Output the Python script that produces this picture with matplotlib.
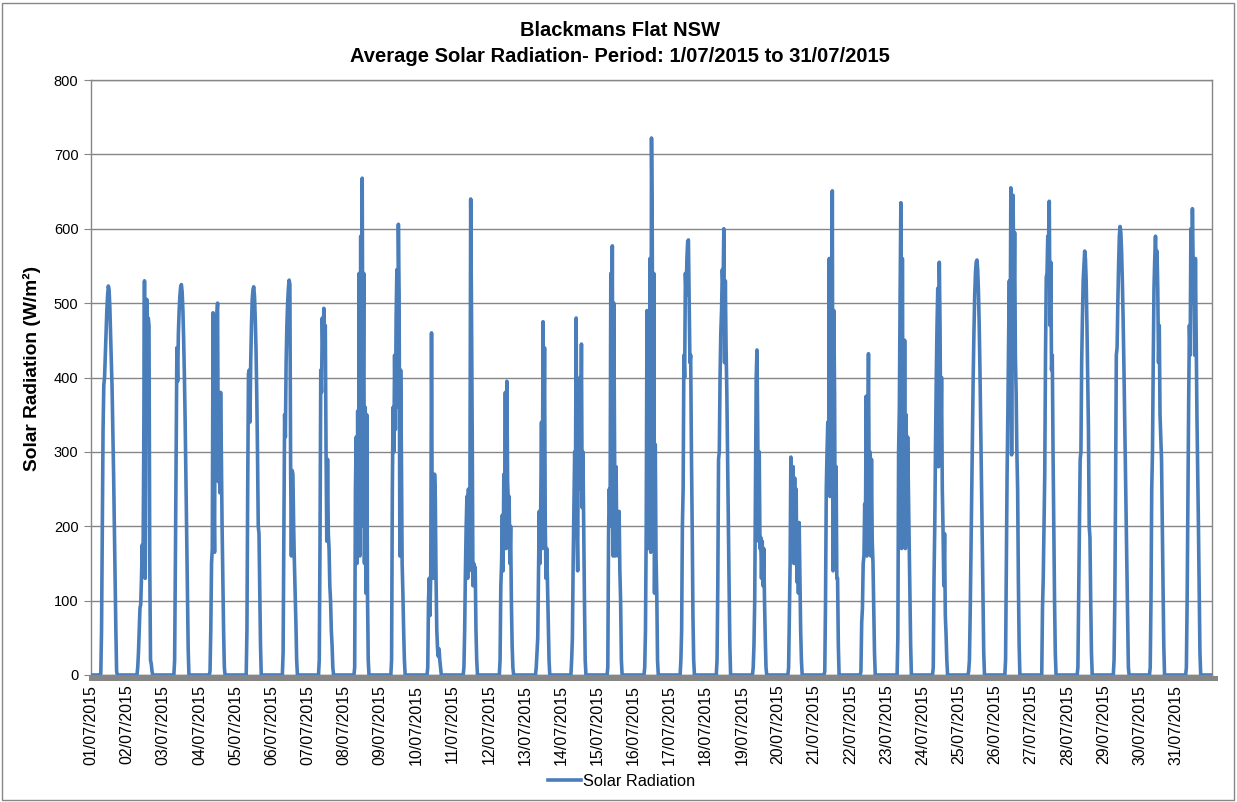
import numpy as np
import matplotlib
matplotlib.use('Agg')
import matplotlib.pyplot as plt
import matplotlib.transforms as mtransforms
from matplotlib.patches import Rectangle

plt.rcParams['font.family'] = ['Liberation Sans', 'DejaVu Sans']

# half-hourly readings 06:00 .. 17:30 for each day (W/m2), night is 0
day01 = [0, 2, 60, 200, 330, 390, 400, 430, 460, 490, 510, 523, 518, 495, 460, 420, 385, 330, 270, 200, 130, 60, 5, 0]
day02 = [0, 0, 10, 30, 60, 90, 95, 130, 175, 140, 300, 530, 130, 420, 505, 440, 480, 470, 150, 20, 15, 5, 0, 0]
day03 = [0, 0, 0, 20, 150, 300, 440, 395, 460, 490, 510, 522, 525, 515, 490, 450, 400, 340, 270, 190, 110, 35, 0, 0]
day04 = [0, 0, 5, 60, 150, 170, 487, 260, 165, 470, 300, 480, 500, 260, 330, 245, 380, 300, 200, 130, 60, 10, 0, 0]
day05 = [0, 0, 0, 60, 250, 405, 410, 340, 420, 470, 505, 518, 522, 510, 480, 440, 380, 300, 200, 190, 110, 40, 0, 0]
day06 = [0, 0, 0, 30, 200, 350, 320, 420, 470, 500, 520, 531, 525, 275, 160, 275, 270, 200, 150, 110, 70, 20, 0, 0]
day07 = [0, 0, 0, 20, 180, 410, 380, 480, 430, 493, 440, 470, 300, 180, 290, 190, 170, 120, 100, 60, 40, 10, 0, 0]
day08 = [0, 0, 10, 250, 320, 150, 355, 200, 540, 160, 590, 200, 668, 330, 540, 150, 360, 110, 350, 110, 20, 0, 0, 0]
day09 = [0, 0, 0, 20, 250, 360, 300, 430, 330, 480, 545, 360, 606, 510, 160, 410, 300, 150, 110, 60, 20, 0, 0, 0]
day10 = [0, 0, 0, 10, 100, 130, 80, 140, 460, 180, 130, 140, 270, 240, 130, 60, 35, 25, 35, 20, 10, 0, 0, 0]
day11 = [0, 0, 0, 10, 60, 140, 200, 240, 130, 250, 140, 250, 640, 500, 330, 120, 150, 130, 145, 60, 20, 0, 0, 0]
day12 = [0, 0, 0, 20, 120, 150, 215, 140, 270, 200, 380, 170, 395, 260, 230, 240, 150, 200, 100, 40, 10, 0, 0, 0]
day13 = [0, 0, 0, 10, 30, 50, 130, 220, 150, 230, 340, 170, 475, 300, 440, 200, 130, 170, 120, 75, 20, 0, 0, 0]
day14 = [0, 0, 20, 50, 150, 230, 300, 250, 480, 200, 140, 380, 250, 400, 300, 445, 225, 300, 200, 100, 20, 0, 0, 0]
day15 = [0, 0, 10, 190, 250, 200, 540, 300, 577, 160, 500, 300, 160, 280, 170, 190, 160, 220, 140, 100, 20, 0, 0, 0]
day16 = [0, 0, 0, 10, 60, 200, 490, 170, 480, 200, 560, 165, 722, 590, 200, 540, 110, 310, 160, 110, 20, 0, 0, 0]
day17 = [0, 0, 0, 20, 60, 200, 250, 430, 400, 540, 510, 560, 583, 585, 500, 420, 430, 300, 200, 80, 20, 0, 0, 0]
day18 = [0, 0, 0, 20, 120, 290, 300, 400, 460, 490, 545, 520, 600, 420, 530, 440, 380, 290, 200, 120, 40, 0, 0, 0]
day19 = [0, 0, 0, 10, 40, 100, 250, 400, 437, 330, 180, 300, 170, 185, 130, 180, 120, 170, 100, 50, 10, 0, 0, 0]
day20 = [0, 0, 10, 80, 150, 293, 155, 200, 280, 150, 265, 160, 250, 125, 200, 110, 205, 130, 60, 20, 0, 0, 0, 0]
day21 = [0, 0, 5, 100, 250, 300, 340, 250, 560, 240, 450, 300, 651, 140, 490, 380, 150, 280, 130, 130, 40, 0, 0, 0]
day22 = [0, 0, 5, 70, 90, 150, 160, 230, 200, 375, 160, 300, 432, 240, 300, 160, 290, 180, 150, 90, 30, 0, 0, 0]
day23 = [0, 0, 0, 50, 300, 360, 510, 635, 170, 560, 250, 180, 450, 170, 350, 180, 320, 250, 180, 100, 40, 0, 0, 0]
day24 = [0, 0, 10, 130, 200, 310, 400, 470, 520, 280, 555, 470, 300, 400, 250, 195, 120, 190, 80, 55, 20, 0, 0, 0]
day25 = [0, 5, 20, 80, 160, 250, 330, 400, 460, 510, 540, 555, 558, 545, 515, 470, 410, 340, 260, 180, 100, 30, 0, 0]
day26 = [0, 0, 20, 150, 270, 350, 450, 530, 420, 655, 296, 600, 645, 490, 595, 430, 380, 300, 250, 125, 40, 0, 0, 0]
day27 = [0, 0, 0, 90, 130, 200, 270, 430, 535, 540, 590, 580, 637, 470, 555, 410, 430, 300, 200, 100, 30, 0, 0, 0]
day28 = [0, 0, 10, 100, 200, 290, 300, 420, 480, 530, 550, 570, 560, 530, 470, 400, 330, 200, 185, 100, 30, 0, 0, 0]
day29 = [0, 0, 20, 100, 250, 430, 440, 500, 550, 590, 603, 595, 570, 530, 480, 420, 350, 280, 200, 130, 65, 10, 0, 0]
day30 = [0, 0, 10, 100, 250, 300, 420, 520, 560, 590, 545, 570, 520, 420, 470, 350, 320, 290, 200, 120, 40, 0, 0, 0]
day31 = [0, 0, 10, 100, 240, 365, 470, 430, 600, 500, 627, 550, 530, 430, 560, 450, 350, 280, 200, 110, 30, 0, 0, 0]

days = [day01, day02, day03, day04, day05, day06, day07, day08, day09, day10,
        day11, day12, day13, day14, day15, day16, day17, day18, day19, day20,
        day21, day22, day23, day24, day25, day26, day27, day28, day29, day30, day31]
dates = ['%02d/07/2015' % (i + 1) for i in range(31)]

# build the series: 48 half-hours per day, readings start at slot 12 (06:00)
radiation = []
for d in days:
    radiation += [0] * 12 + d + [0] * 12
radiation = np.array(radiation, dtype=float)
t = np.arange(len(radiation)) / 48.0

W, H = 1237, 802
fig = plt.figure(figsize=(W / 100, H / 100), dpi=100)
ax = fig.add_axes([91 / W, 1 - 675 / H, (1212 - 91) / W, (675 - 80) / H])

grey = '#868686'
ax.plot(t, radiation, color='#4A7EBB', lw=2.6, label='Solar Radiation', zorder=3)

ax.set_xlim(0, 31)
ax.set_ylim(0, 800)
ax.set_yticks(np.arange(0, 801, 100))
ax.set_xticks(np.arange(31))
ax.set_xticklabels(dates, rotation=90, fontsize=11.5)
ax.tick_params(axis='x', length=0, pad=7)
ax.tick_params(axis='y', length=5, color=grey, labelsize=10.5, pad=4)
ax.grid(axis='y', color=grey, lw=1)
ax.set_axisbelow(True)
for s in ['left', 'right', 'top', 'bottom']:
    ax.spines[s].set_color(grey)
    ax.spines[s].set_linewidth(1)

# thick category axis bar, sitting just under the zero line
bar = mtransforms.offset_copy(ax.transAxes, fig=fig, y=-3, units='dots')
ax.plot([0, 1.003], [0, 0], transform=bar, color=grey, lw=3.6, clip_on=False, zorder=2.5)

fig.text(620 / W, 1 - 30 / H, 'Blackmans Flat NSW', ha='center', va='center',
         fontsize=14.5, fontweight='bold')
fig.text(620 / W, 1 - 56 / H, 'Average Solar Radiation- Period: 1/07/2015 to 31/07/2015',
         ha='center', va='center', fontsize=14.5, fontweight='bold')
fig.text(32 / W, 1 - 368 / H, 'Solar Radiation (W/m²)', rotation=90, ha='center',
         va='center', fontsize=13.8, fontweight='bold')

ax.legend(loc='center', bbox_to_anchor=(622 / W, 1 - 781 / H), bbox_transform=fig.transFigure,
          frameon=False, fontsize=11.8, handlelength=2.0, handletextpad=0.15)

fig.patches.append(Rectangle((2 / W, 2 / H), 1 - 5 / W, 1 - 5 / H, transform=fig.transFigure,
                             fill=False, edgecolor=grey, lw=1))

fig.savefig('out.png', dpi=100)
